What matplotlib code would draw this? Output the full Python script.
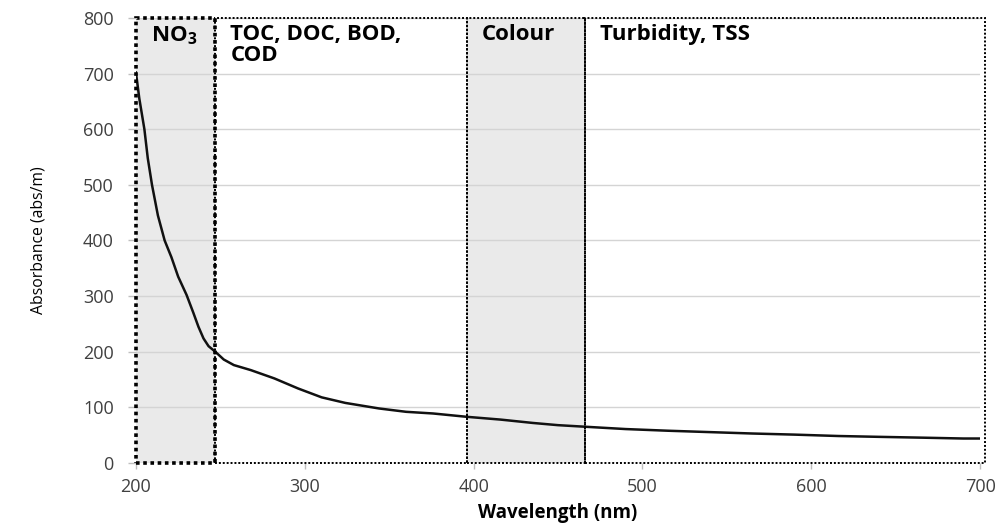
import matplotlib.pyplot as plt
from matplotlib.patches import Rectangle

plt.rcParams['font.family'] = ['Open Sans', 'DejaVu Sans']
plt.rcParams['mathtext.fontset'] = 'custom'
plt.rcParams['mathtext.rm'] = 'Open Sans'
plt.rcParams['mathtext.bf'] = 'Open Sans:bold'

# absorbance spectrum
wavelength = [200, 202, 205, 207, 209.5, 213, 217, 221, 225, 230, 234, 237, 240, 243,
              247, 252, 258, 268, 282, 296, 310, 324, 344, 360, 376, 396, 416, 435,
              450, 467, 490, 515, 540, 565, 590, 616, 640, 666, 690, 700]
absorbance = [702, 655, 600, 548, 500, 445, 400, 370, 335, 302, 270, 245, 224, 210,
              200, 186, 176, 167, 152, 134, 118, 108, 98, 92, 89, 83, 78, 72,
              68, 65, 61, 58, 55.5, 53, 51, 48.5, 47, 45.5, 44, 44]

# parameter bands
band_start = [200, 247, 396, 466]
band_end = [247, 396, 466, 703]
band_label = [r'$\mathbf{NO_3}$', 'TOC, DOC, BOD,\nCOD', 'Colour', 'Turbidity, TSS']
band_shaded = [True, False, True, False]

xticks = [200, 300, 400, 500, 600, 700]
yticks = [0, 100, 200, 300, 400, 500, 600, 700, 800]

fig = plt.figure(figsize=(9.96, 5.26), dpi=100)
ax = fig.add_axes([0.1365, 0.1198, 0.8475, 0.846])

for i in range(len(band_start)):
    if band_shaded[i]:
        ax.axvspan(band_start[i], band_end[i], color='#EAEAEA', zorder=0, lw=0)

ax.set_xlim(200, 700)
ax.set_ylim(0, 800)
ax.set_yticks(yticks)
ax.set_xticks(xticks)
ax.grid(axis='y', color='#D4D4D4', lw=1.0, zorder=1)
for s in ax.spines.values():
    s.set_visible(False)
ax.tick_params(axis='both', colors='#BFBFBF', labelcolor='#404040', labelsize=13,
               width=1)
ax.tick_params(axis='y', length=6, pad=10)
ax.tick_params(axis='x', length=4, pad=7)

ax.plot(wavelength, absorbance, color='#111111', lw=1.8, zorder=4)

for i in range(len(band_start)):
    lw = 2.6 if i == 0 else 1.4
    r = Rectangle((band_start[i], 0), band_end[i] - band_start[i], 800, fill=False,
                  ec='black', lw=lw, ls=(0, (1, 1)), zorder=5, clip_on=False)
    ax.add_patch(r)
    ax.text(band_start[i] + 9, 789, band_label[i], fontsize=16, fontweight='bold',
            va='top', ha='left', linespacing=1.0, zorder=6)

ax.set_xlabel('Wavelength (nm)', fontsize=13.5, fontweight='bold', labelpad=5)
ax.set_ylabel('Absorbance (abs/m)', fontsize=11.3, labelpad=26)

plt.savefig('out.png', dpi=100)
